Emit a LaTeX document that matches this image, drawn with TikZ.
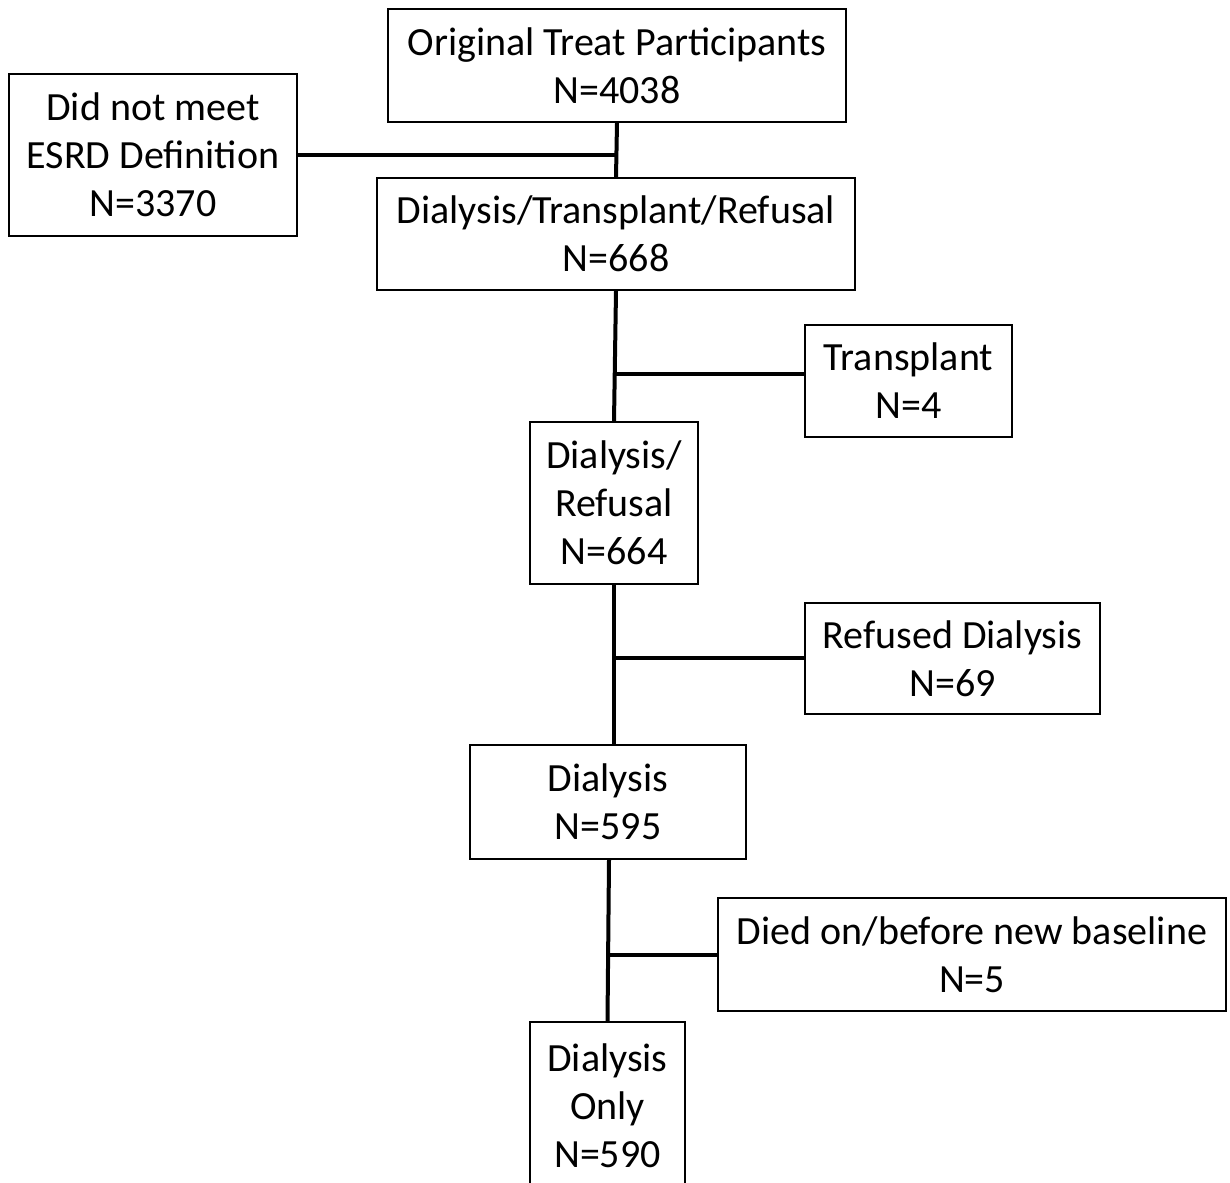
\documentclass[tikz,border=0pt]{standalone}
\usepackage{fontspec}
\setmainfont{Carlito}
\tikzset{
  flowbox/.style={draw, line width=1.5pt, align=center, inner sep=0pt,
    font=\fontsize{40}{48}\selectfont},
  trunk/.style={line width=4pt}
}

\begin{document}
\begin{tikzpicture}[x=1pt, y=-1pt]
    \useasboundingbox (0,0) rectangle (1230,1182);

    % Draw boxes
    \node[flowbox, minimum width=458, minimum height=113] (orig) at (617,65.5) {Original Treat Participants\\N=4038};
    \node[flowbox, minimum width=288, minimum height=162] (nomeet) at (153,155) {Did not meet\\ESRD Definition\\N=3370};
    \node[flowbox, minimum width=478, minimum height=112] (dtr) at (616,234) {Dialysis/Transplant/Refusal\\N=668};
    \node[flowbox, minimum width=207, minimum height=112] (tx) at (908.5,381) {Transplant\\N=4};
    \node[flowbox, minimum width=168, minimum height=162] (dr) at (614,503) {Dialysis/\\Refusal\\N=664};
    \node[flowbox, minimum width=295, minimum height=111] (refd) at (952.5,658.5) {Refused Dialysis\\N=69};
    \node[flowbox, minimum width=276, minimum height=114] (dia) at (608,802) {Dialysis\\N=595};
    \node[flowbox, minimum width=508, minimum height=113] (died) at (972,954.5) {Died on/before new baseline\\N=5};
    \node[flowbox, minimum width=155, minimum height=168] (only) at (607.5,1106) {Dialysis\\Only\\N=590};

    % Branch points
    \coordinate (j1) at (617,155);
    \coordinate (j2) at (615,374);
    \coordinate (j3) at (614,658);
    \coordinate (j4) at (608.5,955);

    % Draw trunk
    \draw[trunk] (orig.south) -- (dtr.north);
    \draw[trunk] (dtr.south) -- (dr.north);
    \draw[trunk] (dr.south) -- (dr.south |- dia.north);
    \draw[trunk] ([xshift=1pt]dia.south) -- (only.north);

    % Draw side branches
    \draw[trunk] (nomeet.east |- j1) -- (j1);
    \draw[trunk] (j2) -- (tx.west |- j2);
    \draw[trunk] (j3) -- (refd.west |- j3);
    \draw[trunk] (j4) -- (died.west |- j4);
\end{tikzpicture}
\end{document}
